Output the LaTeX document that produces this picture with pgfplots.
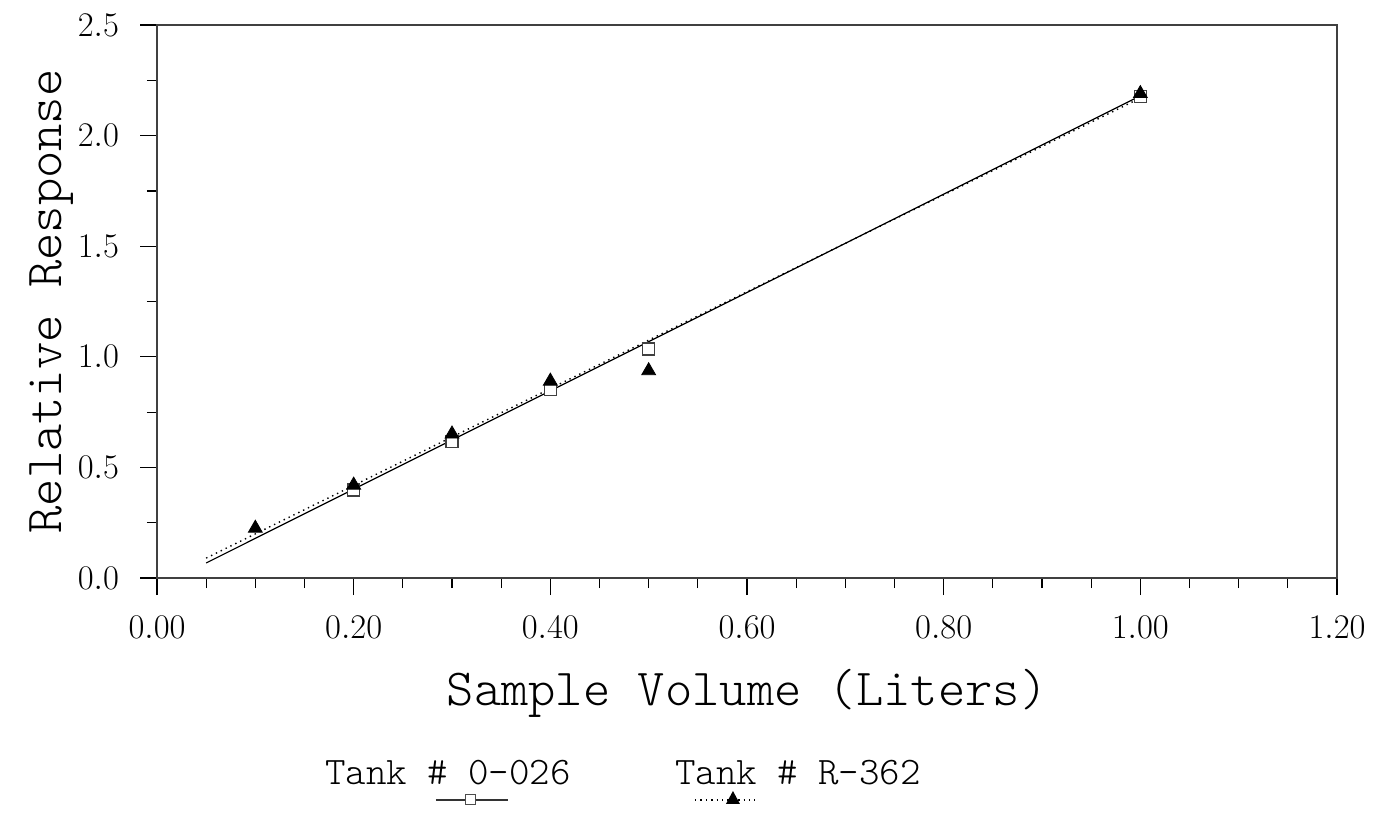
\documentclass[border=0pt]{standalone}
\usepackage{pgfplots}
\pgfplotsset{compat=1.18}
\newcommand{\lightmono}{\ttfamily\fontseries{l}\selectfont}
\begin{document}
\begin{tikzpicture}
\begin{axis}[
  name=ax, scale only axis, width=590pt, height=276.5pt,
  xmin=0, xmax=1.2, ymin=0, ymax=2.5,
  xtick={0,0.2,0.4,0.6,0.8,1.0,1.2}, ytick={0,0.5,1.0,1.5,2.0,2.5},
  minor x tick num=3, minor y tick num=1,
  tick align=outside, xtick pos=bottom, ytick pos=left,
  major tick length=8.5pt, minor tick length=5pt,
  axis line style={line width=0.7pt, black!75},
  every tick/.style={black, line width=0.6pt},
  xticklabel style={font=\fontsize{18.5}{20}\selectfont, yshift=-7pt, /pgf/number format/.cd, fixed, fixed zerofill, precision=2},
  yticklabel style={font=\fontsize{18.5}{20}\selectfont, xshift=-7pt, /pgf/number format/.cd, fixed, fixed zerofill, precision=1},
  xlabel={Sample Volume (Liters)}, ylabel={Relative Response},
  label style={font=\lightmono\fontsize{26}{30}\selectfont},
  xlabel style={at={(axis description cs:0.5,-0.2297)},anchor=base},
  ylabel style={at={(axis description cs:-0.0805,0.5)},anchor=base},
  clip=false,
]
\addplot[black, line width=0.6pt] coordinates {(0.05,0.068) (1.0,2.18)};
\addplot[black, dotted, line width=0.7pt] coordinates {(0.05,0.09) (1.0,2.17)};
\addplot[only marks, mark=square*, mark size=3pt, mark options={draw=black!75, fill=white, line width=0.6pt}] coordinates {
 (0.2,0.398) (0.3,0.616) (0.4,0.853) (0.5,1.035) (1.0,2.175)};
\addplot[only marks, mark=triangle*, mark size=4pt, black] coordinates {
 (0.1,0.225) (0.2,0.42) (0.3,0.651) (0.4,0.89) (0.5,0.937) (1.0,2.19)};
% legend
\node[font=\lightmono\fontsize{19.5}{22}\selectfont] at (axis description cs:0.2466,-0.3526) {Tank \# 0-026};
\node[font=\lightmono\fontsize{19.5}{22}\selectfont] at (axis description cs:0.5432,-0.3526) {Tank \# R-362};
\draw[line width=0.6pt, black!80] (axis description cs:0.2364,-0.4014) -- (axis description cs:0.2975,-0.4014);
\node[draw=black!70, fill=white, line width=0.5pt, minimum size=5pt, inner sep=0pt] at (axis description cs:0.2653,-0.4014) {};
\draw[dotted, line width=0.7pt] (axis description cs:0.4559,-0.4014) -- (axis description cs:0.5068,-0.4014);
\fill (axis description cs:0.4881,-0.4014) ++(0,4.5pt) -- ++(-3.5pt,-6.5pt) -- ++(7pt,0) -- cycle;
\end{axis}
\pgfresetboundingbox
\path[use as bounding box] ([shift={(-78.5pt,-118pt)}]ax.south west) rectangle ([shift={(21pt,12.5pt)}]ax.north east);
\end{tikzpicture}
\end{document}
